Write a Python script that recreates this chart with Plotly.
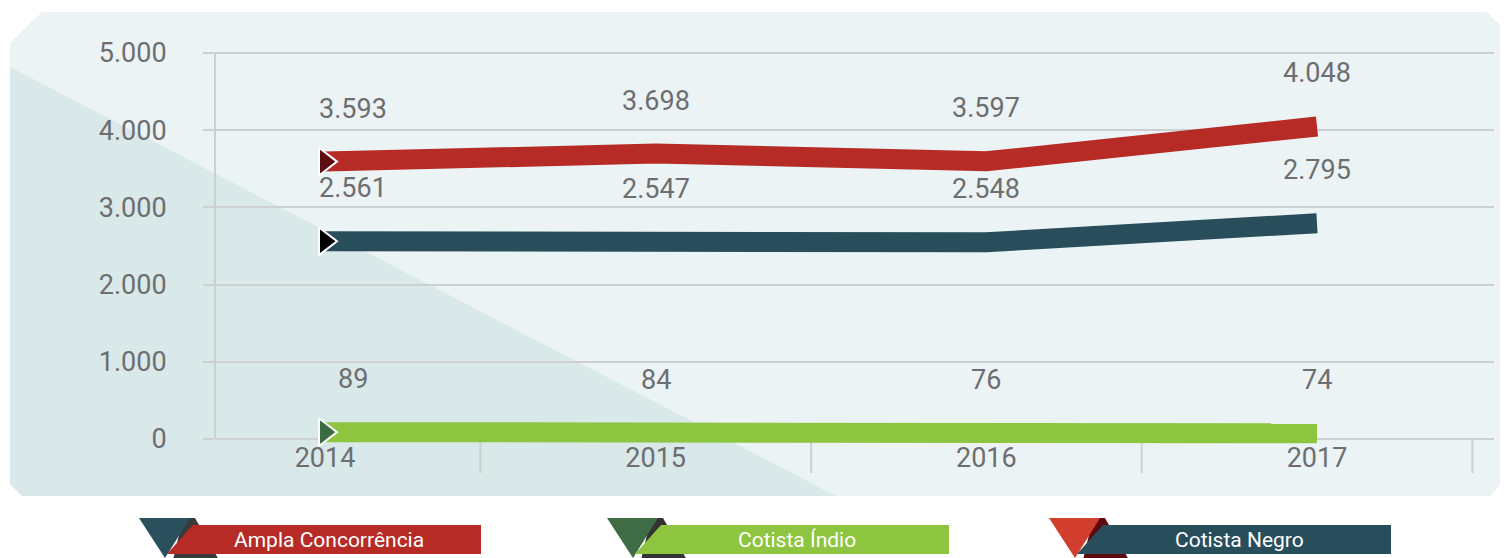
import plotly.graph_objects as go

# data
years = [2014, 2015, 2016, 2017]
ampla = [3593, 3698, 3597, 4048]
indio = [89, 84, 76, 74]
negro = [2561, 2547, 2548, 2795]

series_names = ["Ampla Concorrência", "Cotista Índio", "Cotista Negro"]
y_ticks = [0, 1000, 2000, 3000, 4000, 5000]

# the page body adds an 8px margin, so the figure is 8px smaller and
# every pixel position below is measured on the full 1508x558 window
OFF = 8
W, H = 1508 - OFF, 558 - OFF
FONT = "Roboto, DejaVu Sans Condensed, sans-serif"
GRAY = "#6D6E70"
GRID = "#CDD0D2"


def px(x):
    return (x - OFF) / W


def py(y):
    return 1 - (y - OFF) / H


def poly(points):
    # pixel points -> svg path in paper coords
    pts = [f"{px(x):.5f},{py(y):.5f}" for x, y in points]
    return "M " + " L ".join(pts) + " Z"


def fmt(v):
    return f"{v:,}".replace(",", ".")


fig = go.Figure()

lines = [
    (ampla, "#B72B26", "#5E0E12"),
    (negro, "#284E5C", "#000000"),
    (indio, "#8DC540", "#3B6B40"),
]
names = [series_names[0], series_names[2], series_names[1]]

for (vals, col, dark), name in zip(lines, names):
    fig.add_trace(go.Scatter(x=years, y=vals, mode="lines", name=name,
                             line=dict(color=col, width=20)))

# start markers
for (vals, col, dark), name in zip(lines, names):
    fig.add_trace(go.Scatter(x=years[:1], y=vals[:1], mode="markers",
                             marker=dict(symbol="triangle-right", size=24, color=dark,
                                         line=dict(color="white", width=2)),
                             showlegend=False, hoverinfo="skip"))

# value labels
for vals, _, _ in lines:
    for i, (x, v) in enumerate(zip(years, vals)):
        fig.add_annotation(x=x, y=v, text=fmt(v), showarrow=False, yshift=53,
                           xshift=28 if i == 0 else 0,
                           font=dict(size=27, color=GRAY, family=FONT))

shapes = []
# background panel
shapes.append(dict(type="path", xref="paper", yref="paper", layer="below",
                   path=poly([(10, 43), (42, 12), (1487, 12), (1510, 35), (1510, 475),
                              (1490, 496), (22, 496), (10, 484)]),
                   fillcolor="#EBF3F5", line=dict(width=0)))
shapes.append(dict(type="path", xref="paper", yref="paper", layer="below",
                   path=poly([(10, 67), (836, 496), (22, 496), (10, 484)]),
                   fillcolor="#D9E8E8", line=dict(width=0)))
# cropped banner at the top
shapes.append(dict(type="path", xref="paper", yref="paper",
                   path=poly([(213, 0), (295, 0), (293, 4), (220, 4)]),
                   fillcolor="#6B0F14", line=dict(width=0)))
# y axis line
shapes.append(dict(type="line", xref="paper", yref="y", layer="below",
                   x0=px(215), x1=px(215), y0=0, y1=5000,
                   line=dict(color=GRID, width=2)))
# category dividers under the axis
for yr in years:
    shapes.append(dict(type="line", xref="x", yref="paper", layer="below",
                       x0=yr + 0.47, x1=yr + 0.47, y0=py(439), y1=py(473),
                       line=dict(color=GRID, width=2)))

# custom legend
legend_items = [
    (series_names[0], "#B72B26", "#2A4F5D", "#3A3A3A", 139),
    (series_names[1], "#8DC540", "#3F6B45", "#333333", 607),
    (series_names[2], "#284E5C", "#D23E2D", "#5C0A0E", 1049),
]
for name, col, tri, shadow, x0 in legend_items:
    shapes.append(dict(type="path", xref="paper", yref="paper",
                       path=poly([(x0 + 44, 518), (x0 + 56, 518), (x0 + 80, 560), (x0 + 34, 560)]),
                       fillcolor=shadow, line=dict(width=0)))
    shapes.append(dict(type="path", xref="paper", yref="paper",
                       path=poly([(x0, 518), (x0 + 51, 518), (x0 + 26, 558)]),
                       fillcolor=tri, line=dict(width=0)))
    shapes.append(dict(type="path", xref="paper", yref="paper",
                       path=poly([(x0 + 54, 525), (x0 + 342, 525), (x0 + 342, 554), (x0 + 28, 554)]),
                       fillcolor=col, line=dict(width=0)))
    fig.add_annotation(x=px(x0 + 190), y=py(540), xref="paper", yref="paper",
                       xanchor="center", yanchor="middle",
                       text=name, showarrow=False,
                       font=dict(size=21, color="white", family=FONT))

# axis geometry: 0 at y=439px, 5000 at y=53px
y_lo, y_hi = -300, 5300
k = (439 - 53) / 5000
dom_bot = py(439 + (0 - y_lo) * k)
dom_top = py(53 - (y_hi - 5000) * k)

fig.update_layout(
    width=W, height=H,
    margin=dict(l=0, r=0, t=0, b=0),
    paper_bgcolor="white",
    plot_bgcolor="rgba(0,0,0,0)",
    showlegend=False,
    separators=",.",
    font=dict(family=FONT, color=GRAY, size=27),
    shapes=shapes,
    xaxis=dict(domain=[px(215), px(1494)], range=[2013.6673, 2017.5353],
               tickvals=years, ticktext=[str(y) for y in years],
               showgrid=False, zeroline=False, showline=False, ticks="",
               anchor="free", position=py(439), tickfont=dict(size=27, color=GRAY)),
    yaxis=dict(domain=[dom_bot, dom_top], range=[y_lo, y_hi],
               tickvals=y_ticks, tickformat=",d",
               showgrid=True, gridcolor=GRID, gridwidth=2, zeroline=False,
               ticks="outside", ticklen=11, tickcolor=GRID, tickwidth=2,
               ticklabelstandoff=31, tickfont=dict(size=27, color=GRAY)),
)

fig.write_html("out.html")
